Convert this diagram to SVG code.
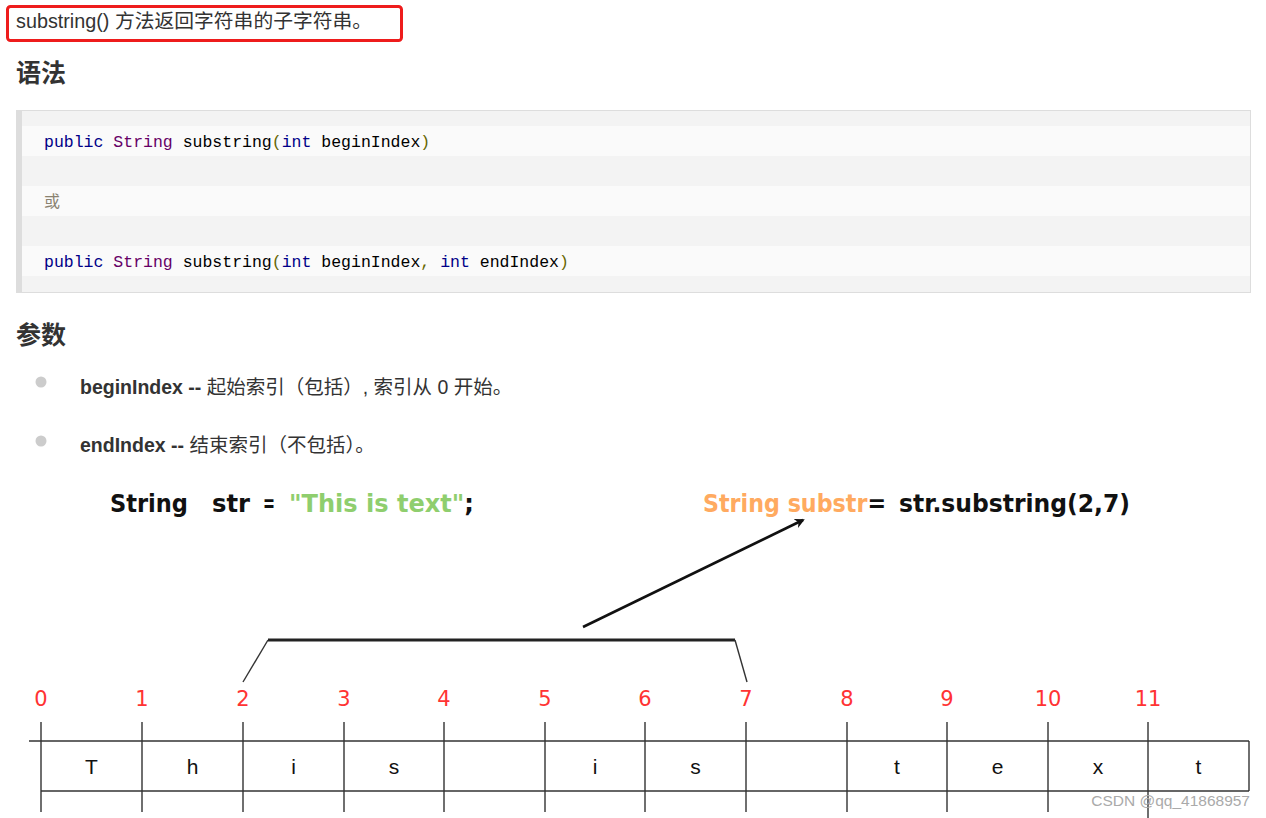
<svg xmlns="http://www.w3.org/2000/svg" width="1266" height="818" viewBox="0 0 1266 818">
<defs>
<style>
.body{font-family:"Liberation Sans","Noto Sans CJK SC",sans-serif;fill:#333}
.h{font-family:"Liberation Sans","Noto Sans CJK SC",sans-serif;font-weight:bold;font-size:25px;fill:#333}
.code{font-family:"Liberation Mono","DejaVu Sans Mono",monospace;font-size:16.5px;white-space:pre}
.kw{fill:#000088}
.ty{fill:#660066}
.pn{fill:#666600}
.pl{fill:#000}
.comic{font-family:"DejaVu Sans",sans-serif;font-weight:bold;font-size:25px}
.num{font-family:"DejaVu Sans",sans-serif;font-size:21px;fill:#ff3333;text-anchor:middle}
.ch{font-family:"Liberation Sans",sans-serif;font-size:21px;fill:#111;text-anchor:middle}
.grid{stroke:#333;stroke-width:1.4;fill:none}
</style>
<marker id="ah" markerWidth="10" markerHeight="10" refX="8" refY="5" orient="auto" markerUnits="userSpaceOnUse">
<path d="M0,0 L10,5 L0,10 L3,5 Z" fill="#111"/>
</marker>
</defs>
<rect width="1266" height="818" fill="#fff"/>

<g id="title">
<rect x="7.5" y="6.5" width="394" height="34" rx="3" fill="none" stroke="#ee1c1c" stroke-width="3"/>
<text class="body" x="16" y="28" font-size="19.8">substring() 方法返回字符串的子字符串。</text>
</g>

<g id="syntax-heading"><text class="h" x="16" y="82">语法</text></g>

<g id="code-block">
<rect x="16.5" y="110.5" width="1234" height="182" fill="#f3f3f3" stroke="#ddd" stroke-width="1"/>
<rect x="17" y="126" width="1233" height="30" fill="#fafafa"/>
<rect x="17" y="186" width="1233" height="30" fill="#fafafa"/>
<rect x="17" y="246" width="1233" height="30" fill="#fafafa"/>
<rect x="16" y="110" width="6" height="183" fill="#ddd"/>
<text class="code" x="44" y="147"><tspan class="kw">public</tspan><tspan class="pl"> </tspan><tspan class="ty">String</tspan><tspan class="pl"> substring</tspan><tspan class="pn">(</tspan><tspan class="kw">int</tspan><tspan class="pl"> beginIndex</tspan><tspan class="pn">)</tspan></text>
<text x="44" y="207" font-family="'Noto Sans CJK SC',sans-serif" font-size="16" fill="#8a8270">或</text>
<text class="code" x="44" y="267"><tspan class="kw">public</tspan><tspan class="pl"> </tspan><tspan class="ty">String</tspan><tspan class="pl"> substring</tspan><tspan class="pn">(</tspan><tspan class="kw">int</tspan><tspan class="pl"> beginIndex</tspan><tspan class="pn">, </tspan><tspan class="kw">int</tspan><tspan class="pl"> endIndex</tspan><tspan class="pn">)</tspan></text>
</g>

<g id="params-heading"><text class="h" x="16" y="344">参数</text></g>

<g id="param-begin">
<circle cx="41" cy="382" r="5.5" fill="#ccc"/>
<text class="body" x="80" y="394" font-size="19.5"><tspan font-weight="bold">beginIndex --</tspan> 起始索引（包括）, 索引从 0 开始。</text>
</g>
<g id="param-end">
<circle cx="41" cy="441" r="5.5" fill="#ccc"/>
<text class="body" x="80" y="452" font-size="19.5"><tspan font-weight="bold">endIndex --</tspan> 结束索引（不包括）。</text>
</g>

<g id="decl">
<text class="comic" y="512" fill="#111"><tspan x="110" textLength="78" lengthAdjust="spacingAndGlyphs">String</tspan><tspan x="212" textLength="38" lengthAdjust="spacingAndGlyphs">str</tspan><tspan x="263" textLength="12" lengthAdjust="spacingAndGlyphs">=</tspan></text>
<text class="comic" x="289" y="512" fill="#111" textLength="185" lengthAdjust="spacingAndGlyphs"><tspan fill="#8fce6e">"This is text"</tspan>;</text>
</g>

<g id="call">
<text class="comic" x="703" y="512" fill="#111" textLength="183" lengthAdjust="spacingAndGlyphs"><tspan fill="#ffaa60">String substr</tspan>=</text>
<text class="comic" x="899" y="512" fill="#111" textLength="231" lengthAdjust="spacingAndGlyphs">str.substring(2,7)</text>
</g>

<g id="connectors">
<line x1="583" y1="627" x2="803" y2="520" stroke="#111" stroke-width="2.6" marker-end="url(#ah)"/>
<line x1="243" y1="682" x2="268" y2="640" stroke="#333" stroke-width="1.4"/>
<line x1="268" y1="640" x2="735" y2="640" stroke="#222" stroke-width="3"/>
<line x1="735" y1="640" x2="747" y2="682" stroke="#333" stroke-width="1.4"/>
</g>

<g id="indices">
<text class="num" x="41" y="706">0</text>
<text class="num" x="142" y="706">1</text>
<text class="num" x="243" y="706">2</text>
<text class="num" x="344" y="706">3</text>
<text class="num" x="444" y="706">4</text>
<text class="num" x="545" y="706">5</text>
<text class="num" x="645" y="706">6</text>
<text class="num" x="746" y="706">7</text>
<text class="num" x="847" y="706">8</text>
<text class="num" x="947" y="706">9</text>
<text class="num" x="1048" y="706">10</text>
<text class="num" x="1148" y="706">11</text>
</g>

<g id="char-grid">
<line class="grid" x1="29" y1="741" x2="1249" y2="741"/>
<line class="grid" x1="41" y1="791" x2="1249" y2="791"/>
<line class="grid" x1="1249" y1="741" x2="1249" y2="791"/>
<path class="grid" d="M41,722V812M142,722V812M243,722V812M344,722V812M444,722V812M545,722V812M645,722V812M746,722V812M847,722V812M947,722V812M1048,722V812M1148,722V818"/>
<text class="ch" x="91.5" y="774">T</text>
<text class="ch" x="192.5" y="774">h</text>
<text class="ch" x="293.5" y="774">i</text>
<text class="ch" x="394" y="774">s</text>
<text class="ch" x="595" y="774">i</text>
<text class="ch" x="695.5" y="774">s</text>
<text class="ch" x="897" y="774">t</text>
<text class="ch" x="997.5" y="774">e</text>
<text class="ch" x="1098" y="774">x</text>
<text class="ch" x="1198.5" y="774">t</text>
</g>

<g id="watermark">
<text x="1250" y="806" font-family="'Liberation Sans',sans-serif" font-size="15.5" fill="#aaa" text-anchor="end">CSDN @qq_41868957</text>
</g>
</svg>
